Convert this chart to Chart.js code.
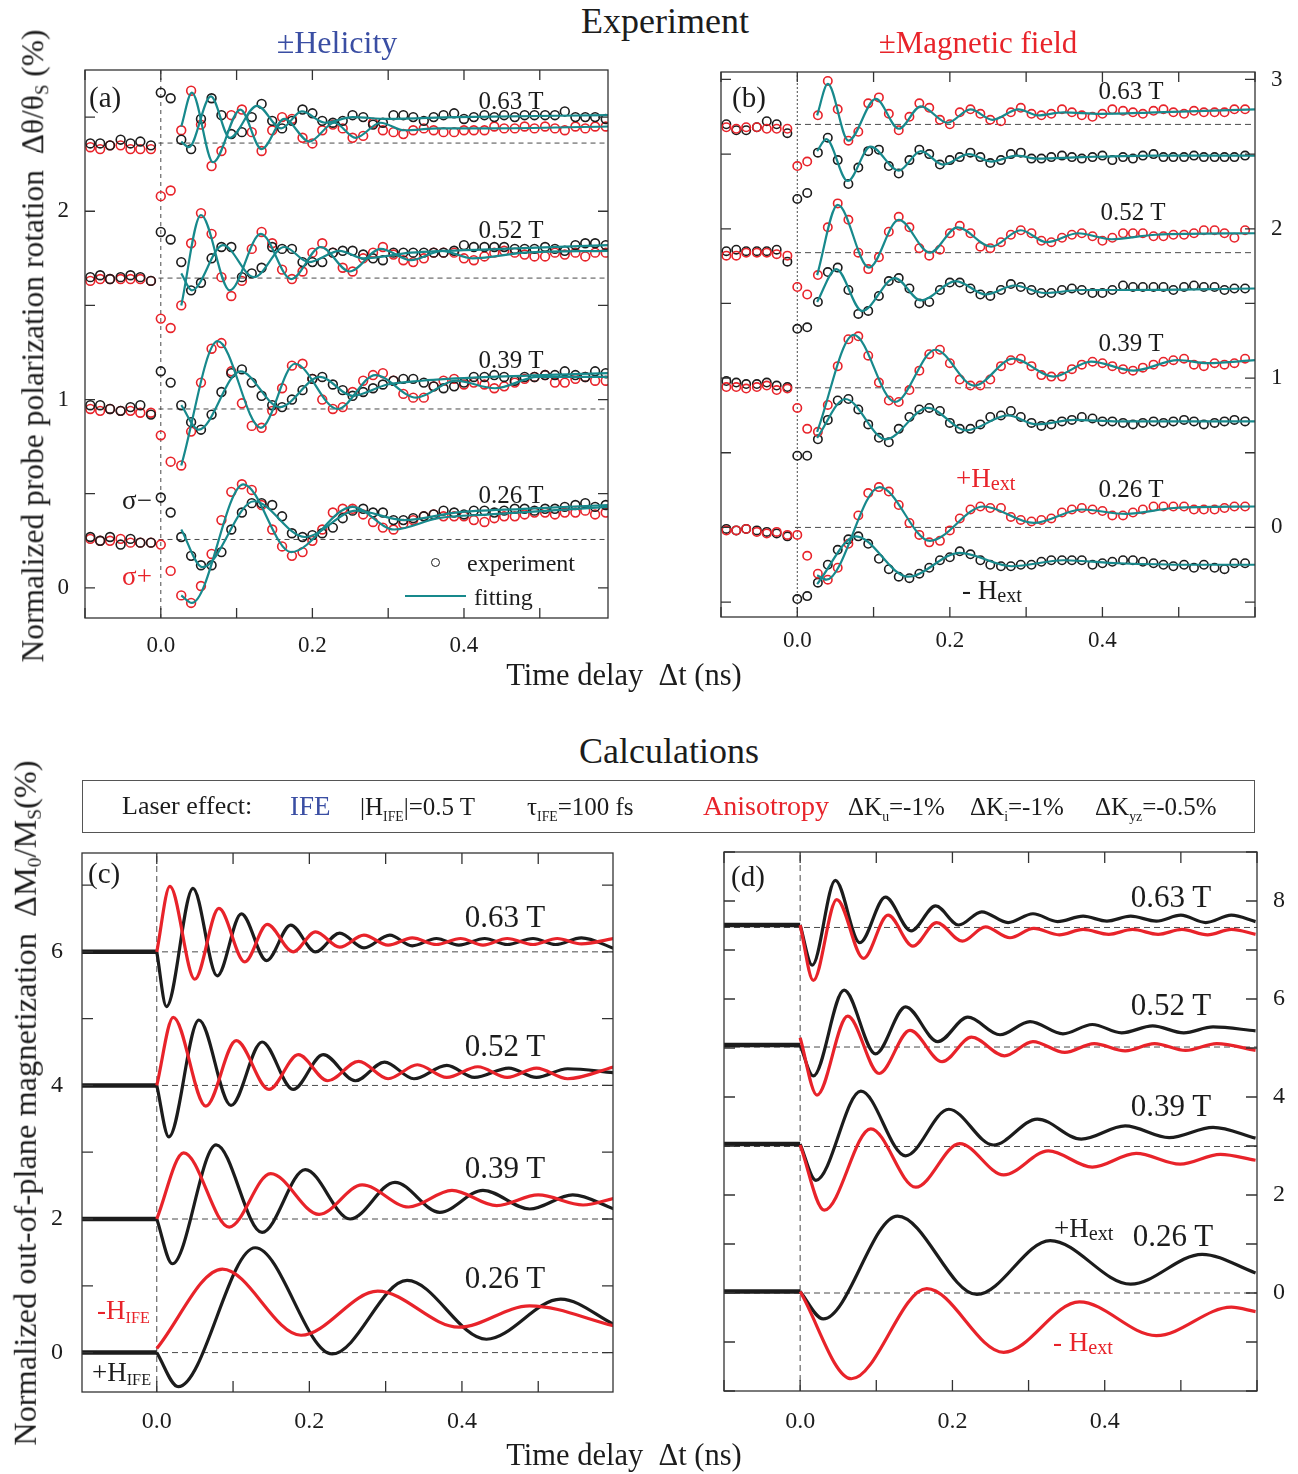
<!DOCTYPE html>
<html lang="en">
<head>
<meta charset="UTF-8" />
<script src="https://cdn.jsdelivr.net/npm/chart.js@4.4.1/dist/chart.umd.min.js"></script>
<style>
  body { margin: 0; background: #fff; overflow: hidden; }
  #fig { position: relative; width: 1298px; height: 1474px; font-family: "Liberation Serif", "Times New Roman", serif; color: #1c1c1c; }
  #fig canvas { position: absolute; }
  .c, .l { position: absolute; white-space: nowrap; line-height: 1; }
  .c { transform: translate(-50%, -50%); }
  .l { transform: translate(0, -50%); }
  .rot { position: absolute; white-space: nowrap; line-height: 1; transform: translate(-50%, -50%) rotate(-90deg); }
  sub { font-size: 0.6em; vertical-align: -0.25em; line-height: 0; }
  .lo { font-size: 0.55em; vertical-align: -0.5em; line-height: 0; }
  .ext { font-size: 0.75em; vertical-align: -0.15em; line-height: 0; }
  .red { color: #e8232a; }
  .blue { color: #3a4ea3; }
</style>
</head>
<body>
<div id="fig">
  <canvas id="pa" width="613" height="618" style="left:15px;top:50px"></canvas>
  <canvas id="pb" width="594" height="615" style="left:701px;top:52px"></canvas>
  <canvas id="pc" width="611" height="609" style="left:22px;top:833px"></canvas>
  <canvas id="pd" width="593" height="609" style="left:704px;top:832px"></canvas>

  <!-- experiment headings -->
  <div class="c" style="left:665px;top:21px;font-size:36px">Experiment</div>
  <div class="c blue" style="left:337px;top:42px;font-size:32px">±Helicity</div>
  <div class="c red" style="left:978px;top:42px;font-size:31px">±Magnetic field</div>

  <!-- panel (a) -->
  <div class="l" style="left:89px;top:97px;font-size:29px">(a)</div>
  <div class="c" style="left:511px;top:100px;font-size:25px">0.63 T</div>
  <div class="c" style="left:511px;top:229px;font-size:25px">0.52 T</div>
  <div class="c" style="left:511px;top:359px;font-size:25px">0.39 T</div>
  <div class="c" style="left:511px;top:494px;font-size:25px">0.26 T</div>
  <div class="c" style="left:137px;top:500px;font-size:27px">σ−</div>
  <div class="c red" style="left:137px;top:576px;font-size:27px">σ+</div>
  <div style="position:absolute;left:431px;top:558px;width:7px;height:7px;border:1.7px solid #1c1c1c;border-radius:50%"></div>
  <div class="l" style="left:467px;top:563px;font-size:24px">experiment</div>
  <div style="position:absolute;left:405px;top:595px;width:61px;height:2.4px;background:#17898c"></div>
  <div class="l" style="left:474px;top:597px;font-size:24px">fitting</div>

  <!-- panel (b) -->
  <div class="l" style="left:732px;top:97px;font-size:29px">(b)</div>
  <div class="c" style="left:1131px;top:90px;font-size:25px">0.63 T</div>
  <div class="c" style="left:1133px;top:211px;font-size:25px">0.52 T</div>
  <div class="c" style="left:1131px;top:342px;font-size:25px">0.39 T</div>
  <div class="c" style="left:1131px;top:488px;font-size:25px">0.26 T</div>
  <div class="l red" style="left:956px;top:478px;font-size:27px">+H<span class="ext">ext</span></div>
  <div class="l" style="left:962px;top:590px;font-size:27px">- H<span class="ext">ext</span></div>

  <div class="rot" style="left:33px;top:346px;font-size:31.5px">Normalized probe polarization rotation&nbsp;&nbsp;Δθ/θ<sub>S</sub> (%)</div>
  <div class="c" style="left:624px;top:675px;font-size:30.5px">Time delay&nbsp;&nbsp;Δt (ns)</div>

  <!-- calculations -->
  <div class="c" style="left:669px;top:751px;font-size:36px">Calculations</div>
  <div style="position:absolute;left:82px;top:780px;width:1171px;height:51px;border:1.5px solid #555"></div>
  <div class="l" style="left:122px;top:806px;font-size:26px">Laser effect:</div>
  <div class="l blue" style="left:290px;top:806px;font-size:27px">IFE</div>
  <div class="l" style="left:360px;top:806px;font-size:25px">|H<span class="lo">IFE</span>|=0.5 T</div>
  <div class="l" style="left:527px;top:806px;font-size:25px">τ<span class="lo">IFE</span>=100 fs</div>
  <div class="l red" style="left:703px;top:806px;font-size:28px">Anisotropy</div>
  <div class="l" style="left:848px;top:806px;font-size:25px">ΔK<span class="lo">u</span>=-1%</div>
  <div class="l" style="left:970px;top:806px;font-size:25px">ΔK<span class="lo">i</span>=-1%</div>
  <div class="l" style="left:1095px;top:806px;font-size:25px">ΔK<span class="lo">yz</span>=-0.5%</div>

  <!-- panel (c) -->
  <div class="l" style="left:88px;top:873px;font-size:29px">(c)</div>
  <div class="c" style="left:505px;top:916px;font-size:31px">0.63 T</div>
  <div class="c" style="left:505px;top:1045px;font-size:31px">0.52 T</div>
  <div class="c" style="left:505px;top:1167px;font-size:31px">0.39 T</div>
  <div class="c" style="left:505px;top:1277px;font-size:31px">0.26 T</div>
  <div class="l red" style="left:97px;top:1310px;font-size:27px">-H<sub>IFE</sub></div>
  <div class="l" style="left:92px;top:1372px;font-size:27px">+H<sub>IFE</sub></div>

  <!-- panel (d) -->
  <div class="l" style="left:731px;top:876px;font-size:29px">(d)</div>
  <div class="c" style="left:1171px;top:896px;font-size:31px">0.63 T</div>
  <div class="c" style="left:1171px;top:1004px;font-size:31px">0.52 T</div>
  <div class="c" style="left:1171px;top:1105px;font-size:31px">0.39 T</div>
  <div class="c" style="left:1173px;top:1235px;font-size:31px">0.26 T</div>
  <div class="l" style="left:1054px;top:1228px;font-size:27px">+H<span class="ext">ext</span></div>
  <div class="l red" style="left:1053px;top:1342px;font-size:27px">- H<span class="ext">ext</span></div>

  <div class="rot" style="left:25px;top:1103px;font-size:32.4px">Normalized out-of-plane magnetization&nbsp;&nbsp;ΔM<sub>0</sub>/M<sub>S</sub>(%)</div>
  <div class="c" style="left:624px;top:1455px;font-size:30.5px">Time delay&nbsp;&nbsp;Δt (ns)</div>
</div>

<script>
// pump-probe delays (ns), shared by all measured traces
const delays = [-0.093,-0.080,-0.067,-0.053,-0.040,-0.027,-0.013,0.000,0.013,0.027,0.040,0.053,0.067,0.080,0.093,0.107,0.120,0.133,0.147,0.160,0.173,0.187,0.200,0.213,0.227,0.240,0.253,0.267,0.280,0.293,0.307,0.320,0.333,0.347,0.360,0.373,0.387,0.400,0.413,0.427,0.440,0.453,0.467,0.480,0.493,0.507,0.520,0.533,0.547,0.560,0.573,0.587];

// (a) helicity: black = sigma-, red = sigma+
const aBlk063 = [2.36,2.36,2.35,2.38,2.36,2.37,2.35, 2.63,2.60,2.38,2.33,2.49,2.60,2.51,2.41,2.42,2.50, 2.57,2.48,2.44,2.48,2.54,2.52,2.48,2.47,2.48,2.51, 2.50,2.46,2.47,2.51,2.51,2.50,2.48,2.50,2.51,2.52, 2.49,2.50,2.51,2.50,2.51,2.50,2.51,2.51,2.51,2.51, 2.53,2.50,2.50,2.50,2.49];
const aRed063 = [2.34,2.33,2.35,2.35,2.33,2.33,2.33, 2.08,2.11,2.43,2.64,2.46,2.24,2.32,2.51,2.54,2.42, 2.32,2.43,2.50,2.49,2.39,2.36,2.43,2.46,2.44,2.39, 2.40,2.47,2.43,2.42,2.41,2.43,2.44,2.43,2.42,2.42, 2.43,2.43,2.43,2.45,2.44,2.44,2.45,2.44,2.45,2.44, 2.43,2.45,2.44,2.45,2.45];
const aBlk052 = [1.65,1.66,1.64,1.65,1.66,1.65,1.63, 1.89,1.85,1.73,1.58,1.62,1.75,1.81,1.81,1.65,1.67, 1.70,1.81,1.80,1.80,1.73,1.73,1.73,1.78,1.79,1.79, 1.77,1.75,1.74,1.78,1.78,1.78,1.78,1.78,1.78,1.79, 1.82,1.81,1.81,1.81,1.81,1.80,1.80,1.80,1.81,1.80, 1.79,1.82,1.83,1.83,1.82];
const aRed052 = [1.63,1.64,1.64,1.64,1.64,1.64,1.63, 1.43,1.38,1.50,1.83,1.99,1.88,1.65,1.55,1.63,1.80, 1.89,1.83,1.69,1.64,1.68,1.78,1.83,1.78,1.70,1.68, 1.75,1.78,1.81,1.77,1.74,1.73,1.75,1.78,1.78,1.78, 1.75,1.74,1.76,1.78,1.79,1.78,1.77,1.76,1.76,1.78, 1.77,1.78,1.76,1.78,1.78];
const aBlk039 = [0.97,0.97,0.95,0.94,0.96,0.97,0.92, 1.15,1.09,0.97,0.88,0.84,0.92,1.04,1.14,1.16,1.09, 1.02,0.97,0.96,1.00,1.05,1.11,1.12,1.08,1.05,1.02, 1.04,1.06,1.08,1.10,1.11,1.11,1.09,1.07,1.06,1.07, 1.09,1.12,1.12,1.13,1.12,1.10,1.12,1.12,1.13,1.13, 1.15,1.13,1.12,1.15,1.14];
const aRed039 = [0.95,0.94,0.95,0.94,0.94,0.93,0.93, 0.81,0.67,0.65,0.83,1.09,1.27,1.30,1.15,0.98,0.86, 0.85,0.94,1.06,1.18,1.19,1.11,1.00,0.95,0.96,1.04, 1.10,1.13,1.14,1.10,1.03,1.01,1.01,1.07,1.10,1.11, 1.08,1.09,1.08,1.06,1.07,1.09,1.11,1.12,1.13,1.09, 1.09,1.11,1.12,1.10,1.10];
const aBlk026 = [0.27,0.25,0.27,0.23,0.26,0.24,0.24, 0.48,0.40,0.27,0.17,0.12,0.12,0.19,0.31,0.40,0.45, 0.45,0.44,0.38,0.29,0.27,0.28,0.29,0.32,0.37,0.41, 0.42,0.40,0.40,0.36,0.36,0.37,0.38,0.39,0.41,0.40, 0.39,0.41,0.41,0.40,0.41,0.42,0.42,0.41,0.42,0.42, 0.43,0.44,0.45,0.43,0.44];
const aRed026 = [0.26,0.25,0.25,0.26,0.24,0.24,0.24, 0.23,0.09,-0.04,-0.08,0.01,0.18,0.36,0.51,0.55,0.52, 0.44,0.31,0.22,0.17,0.19,0.25,0.31,0.40,0.42,0.42, 0.39,0.35,0.32,0.31,0.34,0.36,0.38,0.39,0.38,0.38, 0.38,0.36,0.35,0.37,0.38,0.38,0.39,0.40,0.40,0.39, 0.40,0.40,0.41,0.39,0.40];

// (a) fitted curves (time, value)
const aFitBlk063T = [0.027,0.037,0.066,0.091,0.127,0.159,0.186,0.217,0.253,0.299,0.389,0.59];
const aFitBlk063 = [2.37,2.34,2.61,2.39,2.56,2.44,2.53,2.47,2.50,2.49,2.50,2.51];
const aFitRed063T = [0.027,0.041,0.069,0.105,0.133,0.163,0.196,0.229,0.257,0.290,0.321,0.366,0.434,0.59];
const aFitRed063 = [2.45,2.63,2.26,2.54,2.33,2.49,2.37,2.47,2.39,2.47,2.43,2.44,2.44,2.45];
const aFitBlk052T = [0.027,0.041,0.082,0.123,0.163,0.195,0.236,0.267,0.330,0.450,0.59];
const aFitBlk052 = [1.67,1.58,1.82,1.65,1.81,1.73,1.79,1.75,1.78,1.80,1.82];
const aFitRed052T = [0.027,0.053,0.091,0.132,0.172,0.211,0.249,0.290,0.330,0.371,0.411,0.480,0.59];
const aFitRed052 = [1.50,1.98,1.58,1.88,1.64,1.81,1.68,1.80,1.74,1.79,1.75,1.78,1.79];
const aFitBlk039T = [0.027,0.050,0.105,0.157,0.210,0.253,0.299,0.344,0.434,0.59];
const aFitBlk039 = [0.97,0.84,1.15,0.96,1.12,1.02,1.08,1.10,1.12,1.14];
const aFitRed039T = [0.027,0.075,0.132,0.177,0.233,0.283,0.337,0.389,0.441,0.497,0.59];
const aFitRed039 = [0.65,1.31,0.85,1.19,0.95,1.13,1.01,1.10,1.06,1.12,1.12];
const aFitBlk026T = [0.027,0.055,0.123,0.190,0.258,0.321,0.389,0.479,0.59];
const aFitBlk026 = [0.31,0.11,0.46,0.27,0.41,0.36,0.40,0.42,0.44];
const aFitRed026T = [0.027,0.041,0.109,0.172,0.253,0.308,0.366,0.434,0.59];
const aFitRed026 = [-0.04,-0.08,0.55,0.19,0.43,0.31,0.37,0.39,0.43];
const aBase = [0.257, 0.950, 1.645, 2.362];

// (b) field reversal: red = +H, black = -H
const bRed063 = [2.68,2.67,2.68,2.68,2.67,2.67,2.67, 2.42,2.45,2.76,2.99,2.80,2.59,2.65,2.84,2.88,2.77, 2.66,2.75,2.84,2.81,2.73,2.70,2.78,2.80,2.77,2.73, 2.72,2.78,2.81,2.77,2.76,2.77,2.80,2.78,2.76,2.75, 2.77,2.80,2.79,2.78,2.77,2.79,2.80,2.78,2.77,2.79, 2.78,2.78,2.78,2.80,2.80];
const bBlk063 = [2.70,2.66,2.66,2.68,2.72,2.70,2.64, 2.20,2.24,2.51,2.61,2.46,2.30,2.41,2.52,2.53,2.42, 2.37,2.46,2.53,2.50,2.43,2.46,2.48,2.51,2.48,2.44, 2.46,2.50,2.51,2.47,2.47,2.48,2.49,2.48,2.47,2.48, 2.49,2.46,2.48,2.47,2.49,2.50,2.48,2.48,2.48,2.49, 2.48,2.48,2.48,2.48,2.49];
const bRed052 = [1.82,1.82,1.84,1.84,1.84,1.83,1.82, 1.61,1.56,1.69,2.01,2.17,2.06,1.84,1.73,1.81,1.98, 2.08,2.01,1.87,1.82,1.86,1.97,2.02,1.97,1.88,1.87, 1.91,1.96,1.99,1.97,1.92,1.91,1.94,1.96,1.97,1.95, 1.92,1.94,1.97,1.97,1.97,1.95,1.95,1.96,1.96,1.97, 1.99,1.99,1.97,1.94,1.99];
const bBlk052 = [1.85,1.86,1.85,1.85,1.85,1.86,1.78, 1.33,1.34,1.51,1.71,1.74,1.59,1.43,1.45,1.55,1.65, 1.67,1.60,1.50,1.51,1.59,1.64,1.64,1.60,1.56,1.55, 1.59,1.63,1.61,1.59,1.57,1.57,1.59,1.60,1.59,1.57, 1.57,1.59,1.62,1.61,1.61,1.61,1.61,1.59,1.61,1.62, 1.61,1.61,1.59,1.60,1.60];
const bRed039 = [0.94,0.94,0.93,0.94,0.95,0.92,0.93, 0.80,0.66,0.64,0.82,1.08,1.26,1.28,1.15,0.97,0.85, 0.84,0.92,1.05,1.16,1.19,1.10,0.99,0.95,0.95,0.99, 1.08,1.12,1.13,1.08,1.02,1.01,1.01,1.06,1.09,1.11, 1.10,1.08,1.06,1.05,1.07,1.09,1.11,1.12,1.13,1.09, 1.08,1.10,1.09,1.10,1.13];
const bBlk039 = [0.98,0.97,0.96,0.96,0.97,0.95,0.94, 0.48,0.48,0.59,0.72,0.85,0.86,0.79,0.69,0.60,0.57, 0.66,0.74,0.79,0.80,0.78,0.70,0.66,0.66,0.69,0.74, 0.75,0.78,0.74,0.70,0.68,0.69,0.71,0.72,0.74,0.73, 0.71,0.71,0.70,0.69,0.70,0.71,0.70,0.71,0.72,0.71, 0.69,0.70,0.71,0.72,0.71];
const bRed026 = [-0.02,-0.02,-0.01,-0.03,-0.04,-0.03,-0.05, -0.05,-0.19,-0.31,-0.35,-0.27,-0.11,0.08,0.23,0.27,0.24, 0.15,0.03,-0.05,-0.10,-0.09,-0.02,0.06,0.12,0.14,0.13, 0.13,0.07,0.05,0.04,0.05,0.06,0.10,0.12,0.13,0.12, 0.11,0.08,0.08,0.10,0.12,0.14,0.14,0.14,0.14,0.12, 0.12,0.12,0.13,0.14,0.14];
const bBlk026 = [-0.01,-0.02,-0.01,-0.02,-0.03,-0.04,-0.06, -0.48,-0.46,-0.37,-0.25,-0.15,-0.08,-0.06,-0.11,-0.21,-0.28, -0.33,-0.34,-0.31,-0.27,-0.22,-0.20,-0.16,-0.18,-0.22,-0.25, -0.26,-0.26,-0.25,-0.25,-0.23,-0.22,-0.22,-0.22,-0.22,-0.25, -0.24,-0.23,-0.22,-0.22,-0.23,-0.24,-0.25,-0.26,-0.25,-0.27, -0.25,-0.27,-0.28,-0.24,-0.24];

const bFitRed063T = [0.026,0.040,0.067,0.103,0.133,0.162,0.197,0.227,0.256,0.290,0.315,0.349,0.397,0.470,0.600];
const bFitRed063 = [2.76,2.97,2.59,2.87,2.67,2.82,2.71,2.80,2.73,2.80,2.76,2.78,2.77,2.78,2.80];
const bFitBlk063T = [0.026,0.038,0.066,0.096,0.133,0.162,0.191,0.225,0.254,0.288,0.315,0.373,0.470,0.600];
const bFitBlk063 = [2.52,2.60,2.32,2.55,2.39,2.52,2.43,2.50,2.45,2.49,2.47,2.48,2.49,2.49];
const bFitRed052T = [0.026,0.053,0.094,0.133,0.174,0.210,0.254,0.293,0.327,0.368,0.412,0.470,0.600];
const bFitRed052 = [1.69,2.16,1.74,2.06,1.84,2.01,1.88,1.99,1.91,1.97,1.93,1.96,1.97];
const bFitBlk052T = [0.026,0.051,0.085,0.128,0.162,0.208,0.247,0.285,0.324,0.373,0.421,0.600];
const bFitBlk052 = [1.51,1.73,1.45,1.67,1.52,1.65,1.56,1.62,1.57,1.59,1.59,1.60];
const bFitRed039T = [0.026,0.074,0.128,0.181,0.232,0.283,0.336,0.385,0.441,0.499,0.538,0.600];
const bFitRed039 = [0.64,1.29,0.84,1.19,0.95,1.13,1.01,1.11,1.05,1.12,1.10,1.12];
const bFitBlk039T = [0.026,0.063,0.116,0.171,0.222,0.276,0.314,0.363,0.421,0.518,0.600];
const bFitBlk039 = [0.60,0.86,0.59,0.80,0.65,0.75,0.69,0.72,0.71,0.71,0.71];
const bFitRed026T = [0.026,0.038,0.108,0.174,0.244,0.310,0.373,0.431,0.494,0.600];
const bFitRed026 = [-0.32,-0.35,0.27,-0.09,0.14,0.03,0.12,0.09,0.13,0.14];
const bFitBlk026T = [0.026,0.077,0.145,0.213,0.281,0.349,0.421,0.518,0.600];
const bFitBlk026 = [-0.38,-0.06,-0.33,-0.17,-0.26,-0.22,-0.24,-0.25,-0.25];
const bBase = [0.0, 0.935, 1.840, 2.699];

// (c) IFE simulation: black = +H_IFE, red = -H_IFE
const c063kT = [0,0.0127,0.0475,0.0792,0.1109,0.1439,0.1756,0.2081,0.2398,0.2715,0.3054,0.3348,0.3665,0.3959,0.4299,0.4593,0.4932,0.5226,0.5566,0.5995];
const c063k = [6.0,5.18,6.95,5.64,6.57,5.87,6.40,6.00,6.28,6.06,6.25,6.09,6.20,6.10,6.20,6.11,6.20,6.11,6.21,6.05];
const c063rT = [0,0.0172,0.0498,0.0814,0.1154,0.1448,0.1787,0.2081,0.2398,0.2715,0.3032,0.3348,0.3665,0.3982,0.4276,0.4593,0.4932,0.5249,0.5566,0.5995];
const c063r = [6.0,6.98,5.59,6.65,5.85,6.41,6.00,6.30,6.07,6.25,6.10,6.21,6.11,6.20,6.10,6.20,6.11,6.20,6.12,6.20];
const c052kT = [0,0.0158,0.0552,0.0973,0.1380,0.1787,0.2181,0.2602,0.2986,0.3371,0.3801,0.4163,0.4615,0.4977,0.5385,0.5995];
const c052k = [4.0,3.23,4.98,3.70,4.65,3.94,4.46,4.07,4.35,4.10,4.30,4.12,4.26,4.12,4.25,4.19];
const c052rT = [0,0.0217,0.0643,0.1041,0.1471,0.1855,0.2240,0.2647,0.3032,0.3416,0.3801,0.4208,0.4593,0.4977,0.5385,0.5995];
const c052r = [4.0,5.02,3.69,4.67,3.94,4.46,4.07,4.36,4.10,4.31,4.12,4.28,4.12,4.26,4.10,4.28];
const c039kT = [0,0.0204,0.0778,0.1380,0.1946,0.2534,0.3122,0.3710,0.4276,0.4887,0.5452,0.5995];
const c039k = [2.0,1.33,3.11,1.80,2.74,2.00,2.55,2.10,2.43,2.15,2.36,2.15];
const c039rT = [0,0.0353,0.0950,0.1493,0.2127,0.2692,0.3303,0.3869,0.4457,0.5000,0.5588,0.5995];
const c039r = [2.0,2.99,1.88,2.68,2.07,2.51,2.18,2.43,2.20,2.36,2.21,2.31];
const c026kT = [0,0.0281,0.1290,0.2299,0.3281,0.4321,0.5294,0.5995];
const c026k = [0.0,-0.51,1.57,-0.02,1.08,0.20,0.80,0.42];
const c026rT = [0,0.0860,0.1891,0.2896,0.3959,0.4887,0.5995];
const c026r = [0.06,1.25,0.26,0.92,0.38,0.70,0.40];
const cBase = [0, 2, 4, 6];

// (d) anisotropy simulation: black = +H_ext, red = -H_ext
const d063kT = [0,0.0159,0.0462,0.0784,0.1120,0.1457,0.1779,0.2082,0.2385,0.2731,0.3058,0.3380,0.3716,0.4029,0.4341,0.4678,0.5000,0.5327,0.5663,0.5981];
const d063k = [7.51,6.69,8.42,7.15,8.08,7.39,7.90,7.51,7.78,7.56,7.74,7.58,7.69,7.59,7.69,7.59,7.71,7.56,7.71,7.58];
const d063rT = [0,0.0173,0.0481,0.0832,0.1154,0.1481,0.1793,0.2130,0.2433,0.2755,0.3067,0.3404,0.3716,0.4053,0.4365,0.4702,0.5014,0.5351,0.5663,0.5981];
const d063r = [7.51,6.38,8.03,6.83,7.71,7.08,7.56,7.18,7.47,7.25,7.44,7.31,7.42,7.32,7.42,7.32,7.42,7.31,7.42,7.32];
const d052kT = [0,0.0173,0.0577,0.0990,0.1385,0.1808,0.2202,0.2625,0.3019,0.3452,0.3837,0.4221,0.4630,0.5038,0.5423,0.5981];
const d052k = [5.06,4.43,6.18,4.88,5.84,5.13,5.63,5.27,5.54,5.29,5.48,5.31,5.45,5.31,5.43,5.35];
const d052rT = [0,0.0221,0.0625,0.1038,0.1442,0.1865,0.2250,0.2683,0.3058,0.3476,0.3861,0.4269,0.4654,0.5063,0.5471,0.5981];
const d052r = [5.21,4.04,5.65,4.48,5.36,4.72,5.22,4.84,5.13,4.91,5.09,4.94,5.09,4.95,5.09,4.95];
const d039kT = [0,0.0207,0.0798,0.1385,0.1952,0.2538,0.3115,0.3692,0.4269,0.4846,0.5423,0.5981];
const d039k = [3.04,2.30,4.12,2.80,3.75,3.02,3.55,3.14,3.41,3.17,3.38,3.16];
const d039rT = [0,0.0317,0.0928,0.1519,0.2096,0.2673,0.3260,0.3837,0.4413,0.4990,0.5519,0.5981];
const d039r = [3.02,1.69,3.35,2.16,3.05,2.41,2.90,2.57,2.85,2.63,2.83,2.71];
const d026kT = [0,0.0303,0.1279,0.2322,0.3284,0.4341,0.5279,0.5981];
const d026k = [0.03,-0.53,1.57,-0.03,1.07,0.18,0.79,0.41];
const d026rT = [0,0.0673,0.1663,0.2673,0.3668,0.4678,0.5663,0.5981];
const d026r = [0.03,-1.75,0.09,-1.21,-0.18,-0.87,-0.29,-0.38];
const dBase = [0, 2.99, 5.02, 7.46];
const dPre = [0.03, 3.04, 5.06, 7.51];

const FONT = '"Liberation Serif", "Times New Roman", serif';
const BLACK = "#1c1c1c", RED = "#e8232a", TEAL = "#17898c", GUIDE = "#4a4a4a";

const pts = (xs, ys) => xs.map((x, i) => ({ x: x, y: ys[i] }));

function markers(ys, color, r) {
  return { data: pts(delays, ys), showLine: false, pointRadius: r, pointBorderWidth: 1.6,
    pointBorderColor: color, pointBackgroundColor: "rgba(0,0,0,0)", order: 2 };
}
function curve(xs, ys, color, w) {
  return { data: pts(xs, ys), borderColor: color, borderWidth: w, pointRadius: 0,
    cubicInterpolationMode: "monotone", order: 1 };
}
function guide(x0, x1, y0, y1, dash) {
  return { data: [{ x: x0, y: y0 }, { x: x1, y: y1 }], borderColor: GUIDE, borderWidth: 1,
    borderDash: dash, pointRadius: 0, order: 4 };
}
function preZero(x0, lvl) {
  return { data: [{ x: x0, y: lvl }, { x: 0, y: lvl }], borderColor: BLACK, borderWidth: 4.5,
    pointRadius: 0, order: 3 };
}

// box around the plot area plus inward tick marks on all four sides
const frame = {
  id: "frame",
  afterDatasetsDraw(chart) {
    const { ctx, chartArea: a, scales: { x, y } } = chart;
    const L = chart.options.tickLen;
    ctx.save();
    ctx.strokeStyle = "#333";
    ctx.lineWidth = 1.3;
    ctx.strokeRect(a.left, a.top, a.right - a.left, a.bottom - a.top);
    ctx.beginPath();
    x.ticks.forEach((t) => {
      const px = x.getPixelForValue(t.value);
      ctx.moveTo(px, a.top); ctx.lineTo(px, a.top + L);
      ctx.moveTo(px, a.bottom); ctx.lineTo(px, a.bottom - L);
    });
    y.ticks.forEach((t) => {
      const py = y.getPixelForValue(t.value);
      ctx.moveTo(a.left, py); ctx.lineTo(a.left + L, py);
      ctx.moveTo(a.right, py); ctx.lineTo(a.right - L, py);
    });
    ctx.stroke();
    ctx.restore();
  },
};

const near = (v, list) => list.some((l) => Math.abs(l - v) < 1e-6);

function panel(id, g, datasets) {
  return new Chart(document.getElementById(id), {
    type: "line",
    data: { datasets: datasets },
    options: {
      responsive: false,
      animation: false,
      events: [],
      tickLen: g.tick,
      layout: { padding: g.pad },
      plugins: { legend: { display: false }, tooltip: { enabled: false } },
      scales: {
        x: {
          type: "linear", position: "bottom", min: g.x[0], max: g.x[1],
          grid: { display: false, drawTicks: false }, border: { display: false },
          ticks: {
            stepSize: 0.1, includeBounds: false, autoSkip: false, maxRotation: 0,
            padding: g.xpad, color: BLACK, font: { family: FONT, size: g.fs },
            callback: (v) => (near(v, [0, 0.2, 0.4]) ? (Math.abs(v) < 1e-9 ? 0 : v).toFixed(1) : ""),
          },
          afterFit: (s) => { s.height = 50; s.paddingLeft = 0; s.paddingRight = 0; },
        },
        y: {
          type: "linear", position: g.side, min: g.y[0], max: g.y[1],
          grid: { display: false, drawTicks: false }, border: { display: false },
          ticks: {
            stepSize: g.step, includeBounds: false, autoSkip: false,
            padding: g.ypad, color: BLACK, font: { family: FONT, size: g.fs },
            callback: (v) => (near(v, g.labels) ? String(Math.round(v)) : ""),
          },
          afterFit: (s) => { s.width = g.yw; s.paddingTop = 0; s.paddingBottom = 0; },
        },
      },
    },
    plugins: [frame],
  });
}

// panel (a)
const aX = [-0.1, 0.59], aY = [-0.16, 2.75];
panel("pa", { x: aX, y: aY, step: 0.5, labels: [0, 1, 2], side: "left", yw: 70,
  pad: { top: 20, right: 20 }, xpad: 14, ypad: 16, fs: 23, tick: 10 }, [
  curve(aFitBlk063T, aFitBlk063, TEAL, 2.2), curve(aFitRed063T, aFitRed063, TEAL, 2.2),
  curve(aFitBlk052T, aFitBlk052, TEAL, 2.2), curve(aFitRed052T, aFitRed052, TEAL, 2.2),
  curve(aFitBlk039T, aFitBlk039, TEAL, 2.2), curve(aFitRed039T, aFitRed039, TEAL, 2.2),
  curve(aFitBlk026T, aFitBlk026, TEAL, 2.2), curve(aFitRed026T, aFitRed026, TEAL, 2.2),
  markers(aBlk063, BLACK, 4.4), markers(aRed063, RED, 4.4),
  markers(aBlk052, BLACK, 4.4), markers(aRed052, RED, 4.4),
  markers(aBlk039, BLACK, 4.4), markers(aRed039, RED, 4.4),
  markers(aBlk026, BLACK, 4.4), markers(aRed026, RED, 4.4),
  guide(0, 0, aY[0], aY[1], [4, 4]),
  ...aBase.map((b) => guide(-0.003, aX[1], b, b, [5, 4])),
]);

// panel (b)
const bX = [-0.1, 0.6], bY = [-0.6, 3.05];
panel("pb", { x: bX, y: bY, step: 0.5, labels: [0, 1, 2, 3], side: "right", yw: 40,
  pad: { top: 20, left: 20 }, xpad: 10, ypad: 16, fs: 23, tick: 10 }, [
  curve(bFitRed063T, bFitRed063, TEAL, 2.2), curve(bFitBlk063T, bFitBlk063, TEAL, 2.2),
  curve(bFitRed052T, bFitRed052, TEAL, 2.2), curve(bFitBlk052T, bFitBlk052, TEAL, 2.2),
  curve(bFitRed039T, bFitRed039, TEAL, 2.2), curve(bFitBlk039T, bFitBlk039, TEAL, 2.2),
  curve(bFitRed026T, bFitRed026, TEAL, 2.2), curve(bFitBlk026T, bFitBlk026, TEAL, 2.2),
  markers(bRed063, RED, 4.2), markers(bBlk063, BLACK, 4.2),
  markers(bRed052, RED, 4.2), markers(bBlk052, BLACK, 4.2),
  markers(bRed039, RED, 4.2), markers(bBlk039, BLACK, 4.2),
  markers(bRed026, RED, 4.2), markers(bBlk026, BLACK, 4.2),
  guide(0, 0, bY[0], bY[1], [2, 2]),
  ...bBase.map((b) => guide(-0.003, bX[1], b, b, [6, 4])),
]);

// panel (c)
const cX = [-0.098, 0.598], cY = [-0.59, 7.48];
panel("pc", { x: cX, y: cY, step: 1, labels: [0, 2, 4, 6], side: "left", yw: 60,
  pad: { top: 20, right: 20 }, xpad: 15, ypad: 19, fs: 24, tick: 11 }, [
  curve(c063rT, c063r, RED, 3.2), curve(c063kT, c063k, BLACK, 3.2),
  curve(c052rT, c052r, RED, 3.2), curve(c052kT, c052k, BLACK, 3.2),
  curve(c039rT, c039r, RED, 3.2), curve(c039kT, c039k, BLACK, 3.2),
  curve(c026rT, c026r, RED, 3.2), curve(c026kT, c026k, BLACK, 3.2),
  ...cBase.map((b) => preZero(cX[0], b)),
  guide(0, 0, cY[0], cY[1], [6, 4]),
  ...cBase.map((b) => guide(cX[0], cX[1], b, b, [6, 4])),
]);

// panel (d)
const dX = [-0.1, 0.6], dY = [-2, 9];
panel("pd", { x: dX, y: dY, step: 1, labels: [0, 2, 4, 6, 8], side: "right", yw: 40,
  pad: { top: 20, left: 20 }, xpad: 16, ypad: 16, fs: 24, tick: 11 }, [
  curve(d063rT, d063r, RED, 3.2), curve(d063kT, d063k, BLACK, 3.2),
  curve(d052rT, d052r, RED, 3.2), curve(d052kT, d052k, BLACK, 3.2),
  curve(d039rT, d039r, RED, 3.2), curve(d039kT, d039k, BLACK, 3.2),
  curve(d026rT, d026r, RED, 3.2), curve(d026kT, d026k, BLACK, 3.2),
  ...dPre.map((b) => preZero(dX[0], b)),
  guide(0, 0, dY[0], dY[1], [6, 4]),
  ...dBase.map((b) => guide(dX[0], dX[1], b, b, [6, 4])),
]);
</script>
</body>
</html>
